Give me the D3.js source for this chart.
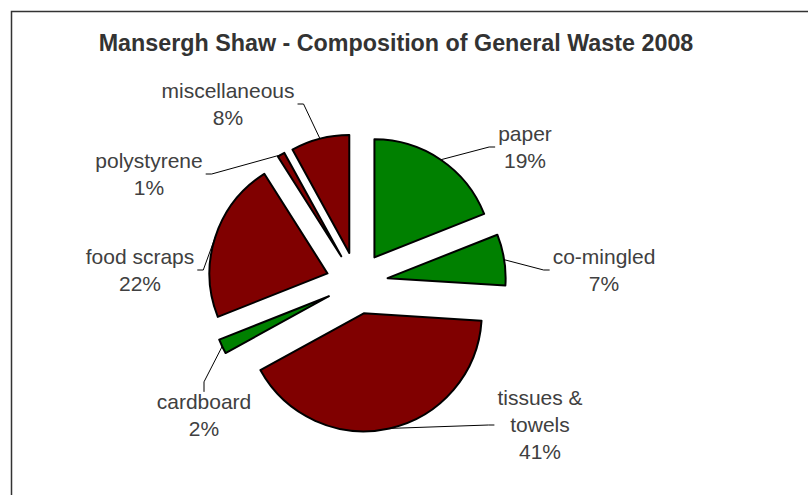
<!DOCTYPE html>
<html>
<head>
<meta charset="utf-8">
<script src="https://cdn.jsdelivr.net/npm/d3@7"></script>
<style>
  body { margin: 0; background: #fff; }
  svg { display: block; }
</style>
</head>
<body>
<script>
// data (share of general waste, %)
const categories = ["paper", "co-mingled", "tissues & towels", "cardboard", "food scraps", "polystyrene", "miscellaneous"];
const shares = [19, 7, 41, 2, 22, 1, 8];
// green = recyclable streams, dark red = the rest
const streams = ["recycled", "recycled", "general", "recycled", "general", "general", "general"];
const labelLines = [["paper"], ["co-mingled"], ["tissues &", "towels"], ["cardboard"], ["food scraps"], ["polystyrene"], ["miscellaneous"]];

// label placement (relative to pie centre) and where the leader line meets the label
const labelAt = [[168, -136], [247, -13], [183, 142], [-153, 132], [-217, -13], [-208, -109], [-129, -179]];
const leaderSide = ["left", "left", "left", "top", "right", "right", "right"];

const W = 808, H = 495;
const cx = 357, cy = 283, r = 118, explode = 31;
const fs = 21, lh = 27;

const svg = d3.select("body").append("svg")
    .attr("width", W)
    .attr("height", H);

// chart frame (runs off the right and bottom edge like the original)
svg.append("rect")
    .attr("x", 11.5).attr("y", 11.5)
    .attr("width", W + 20).attr("height", H + 20)
    .attr("fill", "#fff")
    .attr("stroke", "#333")
    .attr("stroke-width", 1.5);

svg.append("text")
    .attr("x", 396).attr("y", 51)
    .attr("text-anchor", "middle")
    .attr("font-family", "'Liberation Sans', Arial, sans-serif")
    .attr("font-weight", "bold")
    .attr("font-size", 23.3)
    .attr("fill", "#333")
    .text("Mansergh Shaw - Composition of General Waste 2008");

const colour = d3.scaleOrdinal()
    .domain(["recycled", "general"])
    .range(["#008000", "#800000"]);

const pie = d3.pie().sort(null).value(d => d);
const slices = pie(shares);
const arc = d3.arc().innerRadius(0).outerRadius(r);

const mid = d => (d.startAngle + d.endAngle) / 2;
const dir = d => [Math.sin(mid(d)), -Math.cos(mid(d))];

const g = svg.append("g").attr("transform", "translate(" + cx + "," + cy + ")");

g.selectAll("path.slice")
    .data(slices)
    .join("path")
    .attr("class", "slice")
    .attr("transform", d => "translate(" + dir(d)[0] * explode + "," + dir(d)[1] * explode + ")")
    .attr("d", arc)
    .attr("fill", (d, i) => colour(streams[i]))
    .attr("stroke", "#000")
    .attr("stroke-width", 2)
    .attr("stroke-linejoin", "round");

// labels
const labels = g.selectAll("text.label")
    .data(slices)
    .join("text")
    .attr("class", "label")
    .attr("text-anchor", "middle")
    .attr("font-family", "'Liberation Sans', Arial, sans-serif")
    .attr("font-size", fs)
    .attr("fill", "#404040");

labels.each(function(d, i) {
    const lines = labelLines[i].concat([d3.format(".0f")(shares[i]) + "%"]);
    const [lx, ly] = labelAt[i];
    const first = ly - (lines.length - 1) * lh / 2 + 0.35 * fs;
    d3.select(this).selectAll("tspan")
        .data(lines)
        .join("tspan")
        .attr("x", lx)
        .attr("y", (t, k) => first + k * lh)
        .text(t => t);
});

// leader lines from the slice edge to the label
labels.each(function(d, i) {
    const box = this.getBBox();
    const [ux, uy] = dir(d);
    const p0 = [ux * (r + explode), uy * (r + explode)];
    const [lx, ly] = labelAt[i];
    let p1, p2;
    if (leaderSide[i] == "left") {
        p2 = [box.x - 3, ly];
        p1 = [box.x - 9, ly];
    } else if (leaderSide[i] == "right") {
        p2 = [box.x + box.width + 3, ly];
        p1 = [box.x + box.width + 9, ly];
    } else {
        p2 = [lx, box.y + 2];
        p1 = [lx, box.y - 8];
    }
    g.append("path")
        .attr("d", d3.line()([p0, p1, p2]))
        .attr("fill", "none")
        .attr("stroke", "#000")
        .attr("stroke-width", 1);
});
</script>
</body>
</html>
